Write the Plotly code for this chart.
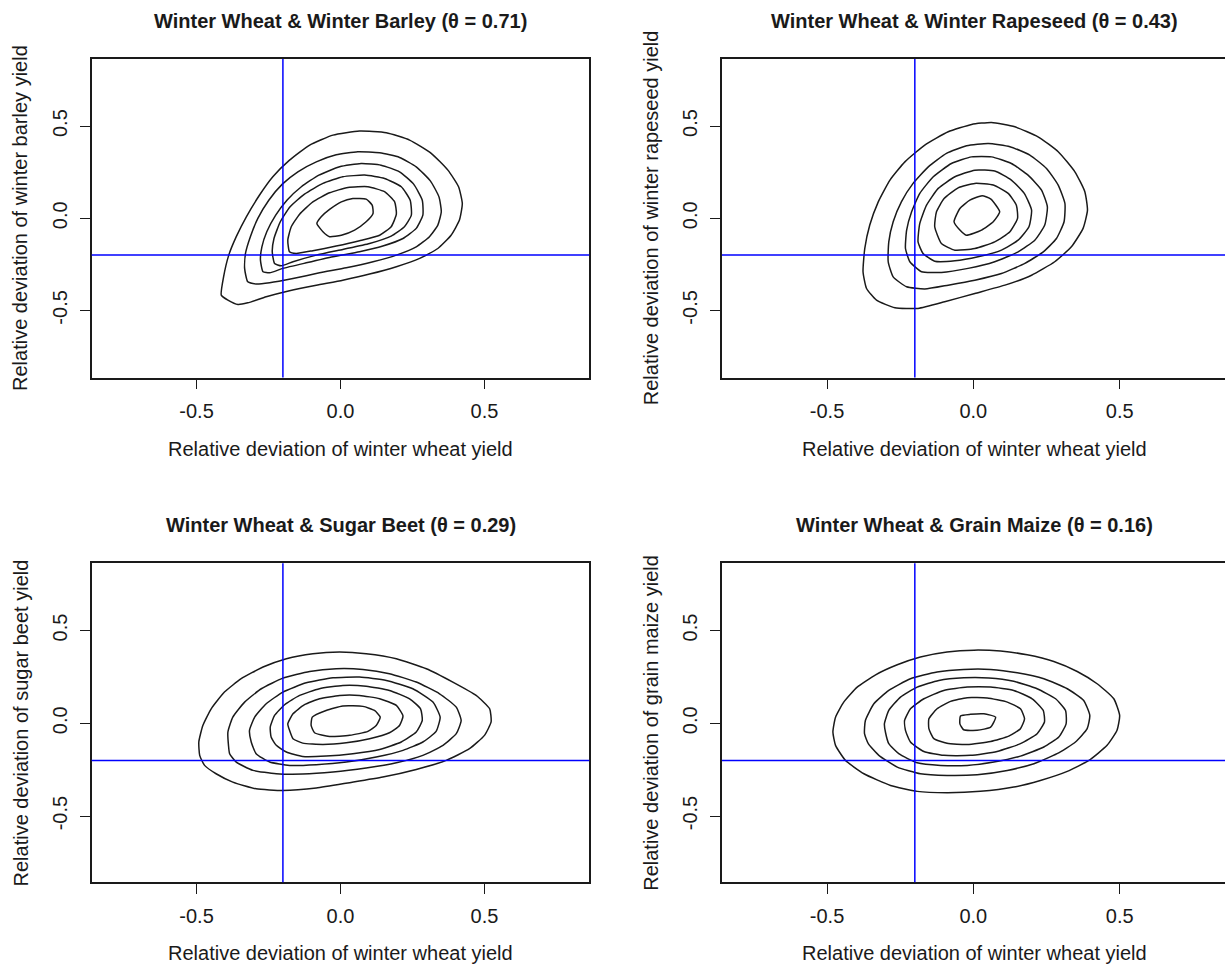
import plotly.graph_objects as go

# ---------------- data ----------------
TITLES = [
    "Winter Wheat & Winter Barley (θ = 0.71)",
    "Winter Wheat & Winter Rapeseed (θ = 0.43)",
    "Winter Wheat & Sugar Beet (θ = 0.29)",
    "Winter Wheat & Grain Maize (θ = 0.16)",
]
X_LABEL = "Relative deviation of winter wheat yield"
Y_LABELS = [
    "Relative deviation of winter barley yield",
    "Relative deviation of winter rapeseed yield",
    "Relative deviation of sugar beet yield",
    "Relative deviation of grain maize yield",
]
TICK_VALUES = [-0.5, 0.0, 0.5]
TICK_TEXT = ["-0.5", "0.0", "0.5"]
THRESHOLD_X = -0.2
THRESHOLD_Y = -0.2

# contour lines, outer to inner, (x, y) pairs
P1_CONTOURS = [
    [(-0.414, -0.417), (-0.406, -0.318), (-0.388, -0.200), (-0.362, -0.100), (-0.327, 0.008),
     (-0.281, 0.126), (-0.235, 0.225), (-0.177, 0.315), (-0.107, 0.397), (-0.026, 0.451),
     (0.066, 0.473), (0.159, 0.464), (0.240, 0.424), (0.315, 0.352), (0.373, 0.261),
     (0.410, 0.171), (0.423, 0.080), (0.413, -0.010), (0.384, -0.092), (0.338, -0.164),
     (0.275, -0.218), (0.194, -0.263), (0.101, -0.303), (0.008, -0.336), (-0.084, -0.363),
     (-0.177, -0.393), (-0.258, -0.426), (-0.322, -0.459), (-0.356, -0.468), (-0.391, -0.444)],
    [(-0.322, -0.345), (-0.333, -0.272), (-0.330, -0.191), (-0.313, -0.100), (-0.287, -0.001),
     (-0.249, 0.098), (-0.202, 0.185), (-0.148, 0.252), (-0.084, 0.306), (-0.015, 0.344),
     (0.060, 0.361), (0.136, 0.355), (0.205, 0.330), (0.263, 0.279), (0.312, 0.203),
     (0.342, 0.116), (0.350, 0.035), (0.338, -0.037), (0.309, -0.100), (0.263, -0.155),
     (0.194, -0.200), (0.113, -0.236), (0.020, -0.269), (-0.073, -0.296), (-0.165, -0.327),
     (-0.246, -0.350), (-0.293, -0.357)],
    [(-0.269, -0.290), (-0.278, -0.227), (-0.273, -0.155), (-0.256, -0.073), (-0.225, 0.017),
     (-0.186, 0.098), (-0.136, 0.171), (-0.075, 0.234), (-0.003, 0.279), (0.072, 0.297),
     (0.141, 0.288), (0.205, 0.252), (0.254, 0.185), (0.284, 0.098), (0.286, 0.017),
     (0.263, -0.055), (0.217, -0.110), (0.147, -0.151), (0.066, -0.182), (-0.026, -0.209),
     (-0.119, -0.242), (-0.200, -0.272), (-0.246, -0.296)],
    [(-0.229, -0.245), (-0.237, -0.182), (-0.231, -0.110), (-0.209, -0.019), (-0.175, 0.062),
     (-0.125, 0.131), (-0.061, 0.189), (0.008, 0.225), (0.084, 0.234), (0.153, 0.216),
     (0.211, 0.171), (0.242, 0.098), (0.246, 0.017), (0.222, -0.046), (0.176, -0.097),
     (0.101, -0.137), (0.008, -0.169), (-0.084, -0.200), (-0.165, -0.236), (-0.206, -0.258)],
    [(-0.177, -0.182), (-0.183, -0.119), (-0.171, -0.046), (-0.142, 0.022), (-0.096, 0.089),
     (-0.038, 0.138), (0.026, 0.167), (0.095, 0.171), (0.153, 0.144), (0.188, 0.089),
     (0.194, 0.022), (0.176, -0.046), (0.136, -0.092), (0.066, -0.122), (-0.015, -0.151),
     (-0.096, -0.176), (-0.154, -0.191)],
    [(-0.082, -0.028), (-0.067, 0.008), (-0.038, 0.048), (0.003, 0.089), (0.043, 0.107),
     (0.089, 0.104), (0.110, 0.071), (0.113, 0.026), (0.089, -0.019), (0.049, -0.064),
     (0.003, -0.092), (-0.038, -0.100), (-0.061, -0.073)],
]

P2_CONTOURS = [
    [(-0.377, -0.290), (-0.371, -0.164), (-0.354, -0.037), (-0.325, 0.089), (-0.285, 0.207),
     (-0.234, 0.306), (-0.166, 0.397), (-0.086, 0.469), (-0.006, 0.509), (0.062, 0.520),
     (0.142, 0.496), (0.221, 0.442), (0.290, 0.361), (0.347, 0.252), (0.381, 0.144),
     (0.390, 0.044), (0.375, -0.055), (0.335, -0.155), (0.278, -0.236), (0.199, -0.309),
     (0.108, -0.363), (0.005, -0.408), (-0.098, -0.453), (-0.189, -0.489), (-0.268, -0.486),
     (-0.331, -0.444), (-0.365, -0.381)],
    [(-0.291, -0.236), (-0.289, -0.128), (-0.274, -0.019), (-0.246, 0.089), (-0.206, 0.189),
     (-0.154, 0.279), (-0.092, 0.352), (-0.023, 0.393), (0.051, 0.406), (0.125, 0.388),
     (0.193, 0.343), (0.250, 0.270), (0.290, 0.180), (0.313, 0.080), (0.310, -0.019),
     (0.284, -0.110), (0.239, -0.182), (0.176, -0.245), (0.096, -0.300), (0.005, -0.336),
     (-0.086, -0.363), (-0.166, -0.384), (-0.228, -0.372), (-0.274, -0.318)],
    [(-0.232, -0.164), (-0.228, -0.064), (-0.211, 0.035), (-0.183, 0.135), (-0.137, 0.225),
     (-0.075, 0.297), (-0.006, 0.333), (0.062, 0.333), (0.130, 0.297), (0.187, 0.234),
     (0.233, 0.153), (0.253, 0.062), (0.244, -0.037), (0.210, -0.119), (0.153, -0.182),
     (0.073, -0.236), (-0.018, -0.272), (-0.109, -0.294), (-0.177, -0.290), (-0.217, -0.236)],
    [(-0.189, -0.128), (-0.183, -0.028), (-0.160, 0.071), (-0.120, 0.162), (-0.063, 0.225),
     (0.005, 0.261), (0.073, 0.256), (0.130, 0.207), (0.174, 0.135), (0.199, 0.044),
     (0.190, -0.046), (0.153, -0.119), (0.096, -0.173), (0.016, -0.209), (-0.063, -0.231),
     (-0.132, -0.233), (-0.172, -0.191)],
    [(-0.132, -0.046), (-0.126, 0.035), (-0.100, 0.107), (-0.052, 0.165), (0.005, 0.189),
     (0.068, 0.180), (0.119, 0.135), (0.147, 0.071), (0.151, -0.001), (0.125, -0.073),
     (0.073, -0.128), (0.005, -0.164), (-0.063, -0.173), (-0.109, -0.137)],
    [(-0.066, -0.019), (-0.046, 0.053), (-0.012, 0.098), (0.030, 0.122), (0.060, 0.104),
     (0.090, 0.035), (0.068, -0.019), (0.028, -0.064), (-0.024, -0.092), (-0.046, -0.064)],
]

P3_CONTOURS = [
    [(-0.492, -0.101), (-0.478, -0.012), (-0.449, 0.078), (-0.403, 0.168), (-0.345, 0.240),
     (-0.269, 0.303), (-0.188, 0.348), (-0.096, 0.375), (-0.003, 0.384), (0.089, 0.375),
     (0.194, 0.348), (0.298, 0.294), (0.390, 0.222), (0.471, 0.150), (0.518, 0.078),
     (0.523, 0.007), (0.500, -0.065), (0.448, -0.137), (0.367, -0.200), (0.263, -0.249),
     (0.147, -0.290), (0.032, -0.320), (-0.084, -0.349), (-0.200, -0.362), (-0.293, -0.353),
     (-0.374, -0.317), (-0.432, -0.272), (-0.472, -0.227), (-0.489, -0.173)],
    [(-0.389, -0.119), (-0.391, -0.047), (-0.374, 0.033), (-0.333, 0.114), (-0.275, 0.186),
     (-0.200, 0.243), (-0.107, 0.279), (-0.015, 0.294), (0.078, 0.290), (0.170, 0.267),
     (0.263, 0.222), (0.344, 0.159), (0.402, 0.087), (0.419, 0.015), (0.402, -0.056),
     (0.356, -0.119), (0.286, -0.173), (0.194, -0.213), (0.089, -0.241), (-0.026, -0.263),
     (-0.131, -0.274), (-0.223, -0.272), (-0.304, -0.254), (-0.362, -0.209), (-0.385, -0.164)],
    [(-0.310, -0.101), (-0.316, -0.038), (-0.298, 0.033), (-0.258, 0.105), (-0.200, 0.168),
     (-0.119, 0.218), (-0.026, 0.245), (0.066, 0.249), (0.159, 0.231), (0.251, 0.186),
     (0.321, 0.114), (0.346, 0.033), (0.332, -0.044), (0.286, -0.101), (0.217, -0.146),
     (0.124, -0.182), (0.020, -0.209), (-0.084, -0.223), (-0.177, -0.227), (-0.246, -0.209),
     (-0.293, -0.164)],
    [(-0.241, -0.074), (-0.244, -0.020), (-0.229, 0.042), (-0.194, 0.100), (-0.142, 0.150),
     (-0.073, 0.186), (0.008, 0.204), (0.089, 0.200), (0.170, 0.177), (0.240, 0.132),
     (0.278, 0.078), (0.284, 0.015), (0.263, -0.047), (0.211, -0.101), (0.136, -0.141),
     (0.043, -0.164), (-0.050, -0.177), (-0.131, -0.179), (-0.188, -0.155), (-0.223, -0.119)],
    [(-0.177, -0.038), (-0.183, -0.003), (-0.165, 0.051), (-0.125, 0.100), (-0.073, 0.132),
     (-0.003, 0.150), (0.066, 0.150), (0.136, 0.132), (0.194, 0.096), (0.217, 0.039),
     (0.205, -0.012), (0.170, -0.051), (0.101, -0.083), (0.020, -0.105), (-0.061, -0.114),
     (-0.131, -0.107), (-0.165, -0.083)],
    [(-0.102, -0.012), (-0.098, 0.033), (-0.050, 0.069), (0.008, 0.093), (0.078, 0.091),
     (0.118, 0.069), (0.138, 0.033), (0.124, -0.012), (0.095, -0.044), (0.032, -0.065),
     (-0.038, -0.071), (-0.090, -0.051)],
]

P4_CONTOURS = [
    [(-0.480, -0.047), (-0.471, 0.033), (-0.443, 0.114), (-0.397, 0.195), (-0.334, 0.261),
     (-0.260, 0.315), (-0.181, 0.357), (-0.090, 0.384), (0.002, 0.394), (0.093, 0.389),
     (0.184, 0.369), (0.275, 0.333), (0.355, 0.279), (0.423, 0.213), (0.480, 0.132),
     (0.500, 0.042), (0.491, -0.038), (0.457, -0.119), (0.395, -0.200), (0.321, -0.259),
     (0.229, -0.308), (0.138, -0.344), (0.024, -0.367), (-0.090, -0.374), (-0.192, -0.367),
     (-0.283, -0.335), (-0.374, -0.272), (-0.437, -0.200), (-0.471, -0.119)],
    [(-0.372, -0.056), (-0.369, 0.015), (-0.340, 0.105), (-0.289, 0.177), (-0.215, 0.240),
     (-0.124, 0.276), (-0.033, 0.290), (0.059, 0.290), (0.150, 0.272), (0.241, 0.240),
     (0.321, 0.186), (0.377, 0.123), (0.398, 0.042), (0.389, -0.029), (0.349, -0.101),
     (0.286, -0.164), (0.207, -0.218), (0.116, -0.254), (0.013, -0.277), (-0.090, -0.281),
     (-0.181, -0.272), (-0.260, -0.236), (-0.323, -0.173), (-0.359, -0.110)],
    [(-0.300, -0.051), (-0.304, -0.003), (-0.289, 0.069), (-0.249, 0.141), (-0.192, 0.195),
     (-0.118, 0.231), (-0.033, 0.245), (0.053, 0.244), (0.138, 0.226), (0.218, 0.186),
     (0.281, 0.132), (0.315, 0.069), (0.317, -0.003), (0.292, -0.074), (0.241, -0.128),
     (0.161, -0.177), (0.070, -0.209), (-0.021, -0.227), (-0.112, -0.227), (-0.192, -0.213),
     (-0.255, -0.164), (-0.289, -0.110)],
    [(-0.232, -0.038), (-0.235, 0.015), (-0.215, 0.078), (-0.169, 0.132), (-0.101, 0.177),
     (-0.021, 0.195), (0.059, 0.195), (0.138, 0.177), (0.201, 0.132), (0.239, 0.069),
     (0.243, 0.007), (0.218, -0.056), (0.161, -0.110), (0.081, -0.152), (-0.010, -0.173),
     (-0.101, -0.173), (-0.169, -0.152), (-0.215, -0.101)],
    [(-0.152, -0.029), (-0.152, 0.024), (-0.124, 0.078), (-0.078, 0.118), (-0.021, 0.138),
     (0.047, 0.136), (0.116, 0.114), (0.161, 0.078), (0.175, 0.024), (0.161, -0.029),
     (0.121, -0.069), (0.059, -0.098), (-0.021, -0.114), (-0.090, -0.108), (-0.135, -0.083)],
    [(-0.046, -0.003), (-0.044, 0.039), (-0.010, 0.048), (0.036, 0.051), (0.076, 0.033),
     (0.059, -0.021), (0.013, -0.038), (-0.033, -0.035)],
]

PANELS = [P1_CONTOURS, P2_CONTOURS, P3_CONTOURS, P4_CONTOURS]

# ---------------- layout geometry ----------------
W, H = 1225, 966
FONT = "Liberation Sans, Arial, Helvetica, sans-serif"
TXT = "#1a1a1a"
LINE = "#1a1a1a"

def px_x(p):
    return p / W

def px_y(p):
    return 1 - p / H

# panel boxes in pixels: (left, right, top, bottom)
BOXES = [
    (91.7, 589.3, 59.0, 377.5),
    (722.0, 1225.0, 59.0, 377.5),
    (91.7, 589.3, 563.3, 882.3),
    (722.0, 1225.0, 563.3, 882.3),
]
XRANGES = [[-0.864, 0.864], [-0.859, 0.860], [-0.864, 0.864], [-0.859, 0.860]]
YRANGES = [[-0.864, 0.864], [-0.864, 0.864], [-0.857, 0.862], [-0.857, 0.862]]
TITLE_CX = [340.5, 974.0, 340.5, 974.0]

fig = go.Figure()
layout = dict(
    width=W, height=H, margin=dict(l=0, r=0, t=0, b=0),
    paper_bgcolor="white", plot_bgcolor="white", showlegend=False,
    font=dict(family=FONT, size=20, color=TXT),
)
annotations = []
shapes = []

for i, (contours, box) in enumerate(zip(PANELS, BOXES)):
    n = "" if i == 0 else str(i + 1)
    xa, ya = "x" + n, "y" + n
    left, right, top, bottom = box
    is_right = i in (1, 3)
    layout["xaxis" + n] = dict(
        domain=[px_x(left), px_x(right)], range=XRANGES[i], anchor=ya,
        tickmode="array", tickvals=TICK_VALUES, ticktext=TICK_TEXT,
        ticks="outside", ticklen=10, tickwidth=1.3, tickcolor=LINE,
        showline=True, linecolor=LINE, linewidth=1.5, mirror=True,
        showgrid=False, zeroline=False, ticklabelstandoff=5,
        tickfont=dict(family=FONT, size=20, color=TXT),
    )
    layout["yaxis" + n] = dict(
        domain=[px_y(bottom), px_y(top)], range=YRANGES[i], anchor=xa,
        tickmode="array", tickvals=TICK_VALUES, ticktext=TICK_TEXT,
        ticks="outside", ticklen=10, tickwidth=1.3, tickcolor=LINE,
        showline=True, linecolor=LINE, linewidth=1.5, mirror=not is_right,
        showgrid=False, zeroline=False, tickangle=-90, ticklabelstandoff=5,
        tickfont=dict(family=FONT, size=20, color=TXT),
    )
    for c in contours:
        xs = [p[0] for p in c] + [c[0][0]]
        ys = [p[1] for p in c] + [c[0][1]]
        fig.add_trace(go.Scatter(
            x=xs, y=ys, mode="lines", xaxis=xa, yaxis=ya,
            line=dict(color=LINE, width=1.5, shape="spline", smoothing=0.5),
            hoverinfo="skip",
        ))
    shapes.append(dict(type="line", xref=xa, yref=ya + " domain",
                       x0=THRESHOLD_X, x1=THRESHOLD_X, y0=0, y1=1,
                       line=dict(color="#0000ff", width=1.5), layer="above"))
    shapes.append(dict(type="line", xref=xa + " domain", yref=ya,
                       x0=0, x1=1, y0=THRESHOLD_Y, y1=THRESHOLD_Y,
                       line=dict(color="#0000ff", width=1.5), layer="above"))
    cx = TITLE_CX[i]
    annotations.append(dict(
        text="<b>" + TITLES[i] + "</b>", xref="paper", yref="paper",
        x=px_x(cx), y=px_y(top - 38), xanchor="center", yanchor="middle",
        showarrow=False, font=dict(family=FONT, size=20, color=TXT),
    ))
    annotations.append(dict(
        text=X_LABEL, xref="paper", yref="paper",
        x=px_x(cx), y=px_y(bottom + 71), xanchor="center", yanchor="middle",
        showarrow=False, font=dict(family=FONT, size=20, color=TXT),
    ))
    annotations.append(dict(
        text=Y_LABELS[i], xref="paper", yref="paper",
        x=px_x(left - 71), y=px_y((top + bottom) / 2), xanchor="center", yanchor="middle",
        textangle=-90, showarrow=False, font=dict(family=FONT, size=20, color=TXT),
    ))

layout["annotations"] = annotations
layout["shapes"] = shapes
fig.update_layout(**layout)
fig.write_html("out.html")
